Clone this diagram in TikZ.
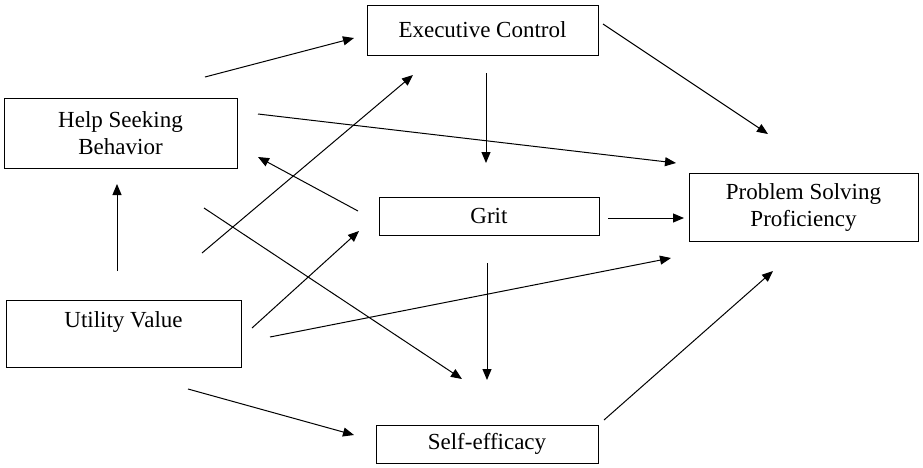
\documentclass[tikz,border=0pt]{standalone}
\usepackage{fontspec}
\setmainfont{Liberation Serif}
\usetikzlibrary{arrows.meta}

\begin{document}
\begin{tikzpicture}[x=0.5pt, y=-0.5pt, line width=0.5pt, >={Triangle[length=5.5pt,width=4.5pt]},
    box/.style={draw, inner sep=0pt, align=center, font=\fontsize{11.5}{13.5}\selectfont}]

        \useasboundingbox (0,0) rectangle (923,467);

        % boxes
        \node[box, minimum width=115.5pt, minimum height=25pt] (ec) at (482.5,30) {Executive Control};
        \node[box, minimum width=116.5pt, minimum height=35pt] (hs) at (120.5,133) {Help Seeking\\Behavior};
        \node[box, minimum width=110pt, minimum height=19pt] (grit) at (489,216) {Grit};
        \node[box, minimum width=114.5pt, minimum height=34pt] (psp) at (803.5,207) {Problem Solving\\Proficiency};
        \node[box, minimum width=117.5pt, minimum height=33.5pt] (uv) at (123.5,333.5) {Utility Value\\~};
        \node[box, minimum width=111pt, minimum height=19pt] (se) at (487,444) {Self-efficacy};

        % free arrow ends
        \coordinate (hs-ec1) at (205,77);   \coordinate (hs-ec2) at (354,38);
        \coordinate (uv-ec1) at (202,253);  \coordinate (uv-ec2) at (413,75);
        \coordinate (hs-psp1) at (258,114); \coordinate (hs-psp2) at (676,163);
        \coordinate (grit-hs1) at (358,211); \coordinate (grit-hs2) at (258,157);
        \coordinate (uv-grit1) at (252,328); \coordinate (uv-grit2) at (359,231);
        \coordinate (hs-se1) at (204,208);  \coordinate (hs-se2) at (462,379);
        \coordinate (uv-psp1) at (270,337); \coordinate (uv-psp2) at (671,258);
        \coordinate (uv-se1) at (188,389);  \coordinate (uv-se2) at (354,435);
        \coordinate (uv-hs1) at (117,271);  \coordinate (uv-hs2) at (117,184);
        \coordinate (ec-grit1) at (486,73); \coordinate (ec-grit2) at (486,163);
        \coordinate (ec-psp1) at (603,24);  \coordinate (ec-psp2) at (768,134);
        \coordinate (grit-psp1) at (608,218); \coordinate (grit-psp2) at (684,218);
        \coordinate (grit-se1) at (487,263); \coordinate (grit-se2) at (487,380);
        \coordinate (se-psp1) at (604,420); \coordinate (se-psp2) at (773,271);

        % paths
        \draw[->] (hs-ec1) -- (hs-ec2);
        \draw[->] (uv-ec1) -- (uv-ec2);
        \draw[->] (hs-psp1) -- (hs-psp2);
        \draw[->] (grit-hs1) -- (grit-hs2);
        \draw[->] (uv-grit1) -- (uv-grit2);
        \draw[->] (hs-se1) -- (hs-se2);
        \draw[->] (uv-psp1) -- (uv-psp2);
        \draw[->] (uv-se1) -- (uv-se2);
        \draw[->] (uv-hs1) -- (uv-hs2);
        \draw[->] (ec-grit1) -- (ec-grit2);
        \draw[->] (ec-psp1) -- (ec-psp2);
        \draw[->] (grit-psp1) -- (grit-psp2);
        \draw[->] (grit-se1) -- (grit-se2);
        \draw[->] (se-psp1) -- (se-psp2);

      \end{tikzpicture}
\end{document}
